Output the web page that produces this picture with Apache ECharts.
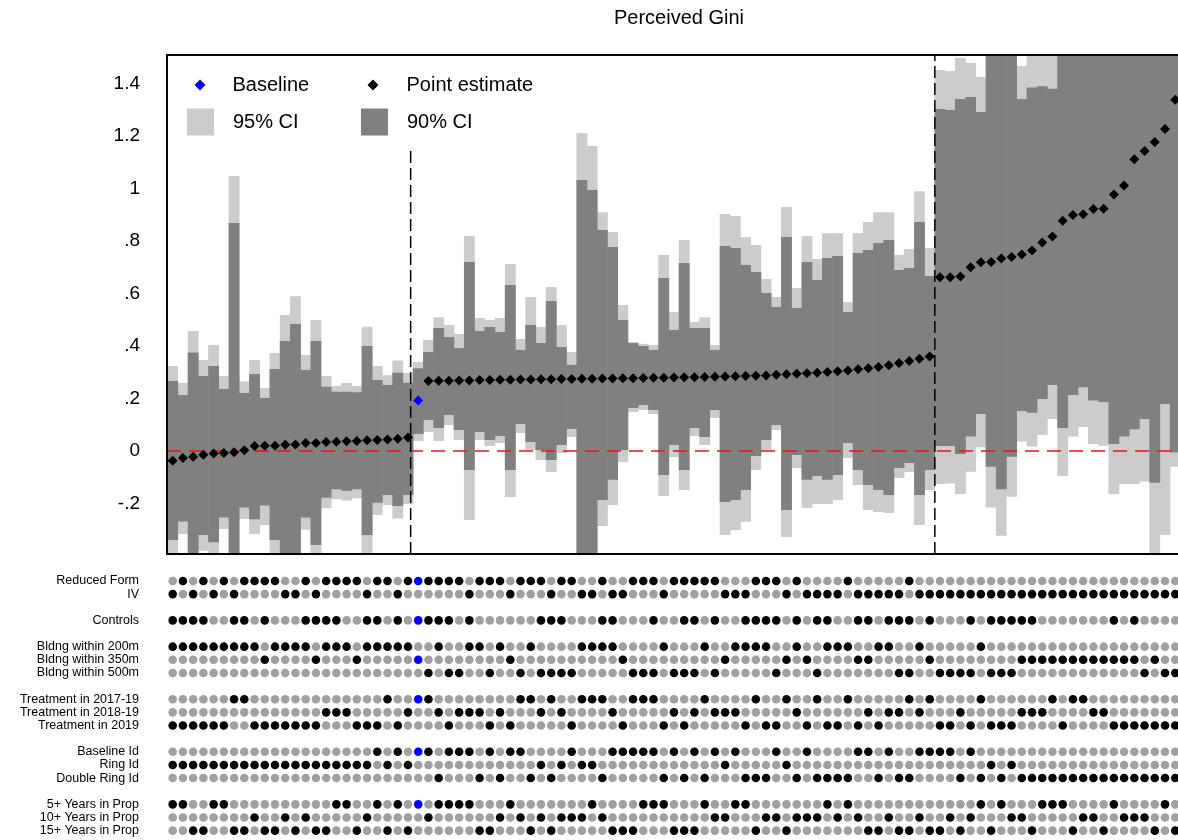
<!DOCTYPE html>
<html><head><meta charset="utf-8">
<script src="https://cdn.jsdelivr.net/npm/echarts@6/dist/echarts.min.js"></script>
<style>html,body{margin:0;padding:0;background:#fff}#c{width:1178px;height:840px}</style>
</head><body><div id="c"></div>
<script>
// ---------- DATA ----------
const est = [
 -0.037,-0.027,-0.022,-0.014,-0.010,-0.008,-0.005,0.003,0.019,0.020,0.020,0.024,0.025,0.030,0.030,0.034,0.035,0.037,0.038,0.041,0.042,0.044,0.047,0.051,
 0.192,
 0.267,0.268,0.268,0.269,0.269,0.270,0.270,0.271,0.271,0.272,0.272,0.273,0.273,0.274,0.274,0.275,0.275,0.276,0.276,0.277,0.277,0.278,0.279,0.279,0.280,
 0.281,0.281,0.282,0.283,0.284,0.285,0.286,0.287,0.288,0.290,0.292,0.294,0.296,0.298,0.301,0.304,0.307,0.311,0.315,0.320,0.327,0.335,0.343,0.351,0.360,
 0.662,0.662,0.665,0.700,0.719,0.720,0.733,0.739,0.749,0.764,0.794,0.817,0.877,0.899,0.902,0.922,0.923,0.977,1.011,1.111,1.143,1.177,1.227,1.338
];
const hi95 = [
 .324,.259,.457,.347,.404,.286,1.048,.265,.347,.240,.373,.518,.590,.366,.499,.286,.248,.259,.248,.473,.324,.289,.345,.297,
 .339,
 .423,.510,.480,.446,.819,.507,.499,.507,.712,.427,.587,.472,.625,.480,.377,1.211,1.162,.910,.834,.556,.415,.408,.404,.747,.530,
 .804,.491,.510,.404,.903,.895,.815,.785,.655,.587,.930,.621,.819,.731,.830,.830,.568,.830,.872,.910,.910,.747,.770,.990,.773,
 1.451,1.448,1.497,1.478,1.425,1.70,1.75,1.70,1.467,1.52,1.53,1.52,1.75,1.75,1.75,1.75,1.75,1.80,1.85,1.95,2.00,2.10,2.20,2.30
];
const hi90 = [
 .267,.213,.375,.286,.324,.236,.869,.221,.293,.202,.312,.419,.484,.309,.419,.245,.226,.226,.224,.400,.270,.251,.298,.260,
 .315,
 .377,.469,.434,.392,.720,.457,.472,.453,.632,.385,.480,.411,.571,.396,.328,1.032,.994,.842,.777,.499,.411,.400,.385,.659,.461,
 .716,.469,.469,.385,.781,.773,.709,.682,.602,.549,.815,.545,.720,.651,.735,.743,.530,.754,.766,.792,.804,.690,.697,.872,.667,
 1.303,1.299,1.341,1.349,1.291,1.56,1.60,1.56,1.341,1.385,1.390,1.380,1.60,1.60,1.60,1.60,1.60,1.65,1.70,1.80,1.85,1.90,2.00,2.10
];
const lo90 = [
 -.339,-.269,-.42,-.320,-.348,-.253,-.45,-.215,-.260,-.208,-.339,-.44,-.40,-.253,-.358,-.178,-.146,-.151,-.146,-.320,-.197,-.168,-.210,-.168,
 .065,
 .118,.088,.137,.080,-.072,.072,.042,.057,-.072,.103,.034,.004,-.034,.023,.084,-.45,-.42,-.187,-.110,.004,.164,.175,.156,-.091,.023,
 -.072,.088,.053,.156,-.194,-.187,-.149,-.019,.042,.099,-.225,-.015,-.110,-.095,-.110,-.091,.030,-.072,-.130,-.149,-.168,-.065,-.046,-.168,-.072,
 .019,.019,-.011,.055,.141,-.060,-.146,-.022,.152,.146,.198,.251,.088,.213,.243,.192,.187,.027,.055,.083,.122,-.121,.179,-.006
];
const lo95 = [
 -.45,-.316,-.50,-.380,-.42,-.297,-.55,-.259,-.316,-.282,-.42,-.52,-.50,-.300,-.43,-.218,-.184,-.189,-.180,-.41,-.244,-.206,-.257,-.202,
 .038,
 .072,.038,.099,.042,-.263,.042,.019,.030,-.175,.069,.004,-.034,-.080,-.008,.053,-.55,-.50,-.286,-.206,-.042,.149,.156,.141,-.171,-.023,
 -.149,.057,.023,.126,-.320,-.301,-.270,-.072,.004,.080,-.328,-.065,-.217,-.202,-.202,-.187,-.027,-.130,-.225,-.232,-.236,-.103,-.080,-.282,-.149,
 -.126,-.124,-.164,-.079,.014,-.215,-.323,-.174,.036,.017,.061,.122,-.095,.055,.091,.027,.020,-.164,-.126,-.126,-.116,-.45,-.320,-.060
];
// specification choices (index of the chosen option inside each group)
const method = [ // 0 = Reduced Form, 1 = IV
 1,0,1,0,1,0,1,0,0,0,0,1,1,0,1,0,0,0,0,1,0,0,1,0,
 0,
 0,0,0,0,1,0,0,0,1,0,0,0,1,0,0,1,1,0,1,1,0,0,0,1,0,
 0,0,0,0,1,1,1,0,0,0,1,0,1,1,1,1,0,1,1,1,1,1,0,1,1,
 1,1,1,1,1,1,1,1,1,1,1,1,1,1,1,1,1,1,1,1,1,1,1,1
];
const controls = [ // 1 = with controls
 1,1,1,1,0,0,1,1,0,1,0,0,0,1,1,1,1,0,0,1,1,0,1,0,
 1,
 1,1,1,0,1,0,0,0,0,0,0,1,1,1,0,0,0,1,1,0,0,0,1,0,0,
 1,1,0,1,0,0,1,1,1,1,0,1,0,1,1,0,0,1,1,0,1,1,1,0,1,
 0,0,0,1,0,1,1,1,1,1,0,0,0,0,0,0,0,1,0,1,0,0,0,0
];
const bldng = [ // 0 = 200m, 1 = 350m, 2 = 500m
 0,0,0,0,0,0,0,0,0,1,0,0,0,0,1,0,0,0,1,0,0,0,0,0,
 1,
 2,0,2,2,0,0,2,0,1,2,0,2,2,2,2,0,0,0,0,1,2,2,2,0,2,
 2,2,0,2,1,0,0,0,0,2,1,0,1,2,0,0,0,1,1,0,0,2,2,0,1,
 2,2,2,2,0,2,2,2,1,1,1,1,1,1,1,1,1,1,1,1,2,1,2,2
];
const treat = [ // 0 = 2017-19, 1 = 2018-19, 2 = 2019
 2,2,2,2,2,2,0,0,2,2,2,2,2,2,2,1,1,1,2,2,2,0,2,1,
 0,
 0,1,2,1,1,1,2,1,2,0,0,1,0,1,2,0,0,0,1,2,0,0,0,2,1,
 2,1,0,1,1,1,2,0,2,2,0,1,2,0,2,2,0,2,1,2,1,1,0,1,0,
 2,2,1,2,0,2,2,2,1,1,1,0,2,0,0,1,1,2,2,2,2,2,2,2
];
const idType = [ // 0 = Baseline Id, 1 = Ring Id, 2 = Double Ring Id
 1,1,1,1,1,1,1,1,1,1,1,1,1,1,1,1,1,1,1,1,0,1,0,1,
 0,
 0,2,0,0,0,2,0,2,0,0,2,1,2,1,0,1,1,2,0,0,0,0,0,2,0,
 2,0,2,0,1,0,2,2,2,0,1,2,0,2,2,2,2,0,0,2,0,2,2,0,0,
 0,0,2,0,2,1,2,1,2,2,2,2,2,2,2,2,2,2,2,2,2,2,2,2
];
const years = [ // 0 = 5+, 1 = 10+, 2 = 15+
 0,0,2,2,0,0,2,2,1,2,2,1,2,1,2,2,0,0,2,1,0,2,0,2,
 0,
 1,0,0,0,0,2,2,1,0,1,2,1,2,1,1,1,0,1,2,2,2,0,0,0,2,
 2,2,0,1,1,0,0,2,1,1,2,1,1,1,0,1,0,1,2,2,1,2,2,1,2,
 2,1,2,1,0,2,0,1,1,2,0,0,0,2,1,1,2,0,1,1,1,2,0,2
];
const rowLabels = ['Reduced Form','IV','','Controls','','Bldng within 200m','Bldng within 350m','Bldng within 500m','',
 'Treatment in 2017-19','Treatment in 2018-19','Treatment in 2019','','Baseline Id','Ring Id','Double Ring Id','',
 '5+ Years in Prop','10+ Years in Prop','15+ Years in Prop'];
const yTickValues = [-0.2,0,0.2,0.4,0.6,0.8,1,1.2,1.4];
const yTickLabels = ['-.2','0','.2','.4','.6','.8','1','1.2','1.4'];
const baselineIndex = 24;
const groupBreaks = [23.26, 74.5];
const breakTops = [1.145, 1.5086];

// ---------- BUILD ----------
const FONT = '"Liberation Sans", Arial, Helvetica, sans-serif';
const XMIN = -0.557, XMAX = 98.27, YMIN = -0.3924, YMAX = 1.5086;
const n = est.length;
const idx = Array.from({length:n}, (_, i) => i);

const ci95 = idx.map(i => [i, lo95[i], hi95[i]]);
const ci90 = idx.map(i => [i, lo90[i], hi90[i]]);
const pts = idx.filter(i => i !== baselineIndex).map(i => [i, est[i]]);
const basePt = [[baselineIndex, est[baselineIndex]]];

const groups = [
  {codes: method, rows: [0, 1]},
  {codes: controls.map(c => c === 1 ? 0 : -1), rows: [3]},
  {codes: bldng, rows: [5, 6, 7]},
  {codes: treat, rows: [9, 10, 11]},
  {codes: idType, rows: [13, 14, 15]},
  {codes: years, rows: [17, 18, 19]}
];
const dotData = [];
idx.forEach(i => {
  groups.forEach(g => g.rows.forEach((r, j) => {
    const on = g.codes[i] === j;
    dotData.push({value: [i, r], itemStyle: {opacity: 1, color: on ? (i === baselineIndex ? '#0000ff' : '#000000') : '#a0a0a0'}});
  }));
});

function ciRender(color) {
  return function (params, api) {
    const i = api.value(0), lo = api.value(1), hi = api.value(2);
    const a = api.coord([i - 0.5, hi]);
    const b = api.coord([i + 0.5, lo]);
    const cs = params.coordSys;
    const x1 = Math.max(a[0] - 0.3, cs.x), x2 = Math.min(b[0] + 0.3, cs.x + cs.width);
    const y1 = Math.max(a[1], cs.y), y2 = Math.min(b[1], cs.y + cs.height);
    if (x2 <= x1 || y2 <= y1) return null;
    return {type: 'rect', shape: {x: x1, y: y1, width: x2 - x1, height: y2 - y1}, style: {fill: color}};
  };
}

function refLine(name, data, color, width, dash) {
  return {name: name, type: 'line', xAxisIndex: 0, yAxisIndex: 0, z: 3, silent: true,
    symbol: 'none', showSymbol: false, data: data,
    lineStyle: {color: color, width: width, type: dash, opacity: 1}, itemStyle: {color: color}};
}

const frameLine = {show: true, onZero: false, lineStyle: {color: '#000', width: 2}};
const legendBase = {selectedMode: false, padding: 0, orient: 'horizontal'};
const chart = echarts.init(document.getElementById('c'), null, {renderer: 'canvas'});
chart.setOption({
  animation: false,
  backgroundColor: '#ffffff',
  title: {text: 'Perceived Gini', left: 614, top: 8, padding: 0,
    textStyle: {fontFamily: FONT, fontSize: 20, fontWeight: 'normal', color: '#000'}},
  legend: [
    Object.assign({}, legendBase, {left: 194.5, top: 75, itemWidth: 11, itemHeight: 11,
      data: [{name: 'Baseline', icon: 'diamond', itemStyle: {color: '#0000ff'}}],
      textStyle: {fontFamily: FONT, fontSize: 20, color: '#000', padding: [0, 0, 0, 22]}}),
    Object.assign({}, legendBase, {left: 367.5, top: 75, itemWidth: 11, itemHeight: 11,
      data: [{name: 'Point estimate', icon: 'diamond', itemStyle: {color: '#000'}}],
      textStyle: {fontFamily: FONT, fontSize: 20, color: '#000', padding: [0, 0, 0, 23]}}),
    Object.assign({}, legendBase, {left: 187, top: 108.5, itemWidth: 27, itemHeight: 27,
      data: [{name: '95% CI', icon: 'rect', itemStyle: {color: '#cccccc'}}],
      textStyle: {fontFamily: FONT, fontSize: 20, color: '#000', padding: [0, 0, 0, 14]}}),
    Object.assign({}, legendBase, {left: 361, top: 108.5, itemWidth: 27, itemHeight: 27,
      data: [{name: '90% CI', icon: 'rect', itemStyle: {color: '#808080'}}],
      textStyle: {fontFamily: FONT, fontSize: 20, color: '#000', padding: [0, 0, 0, 14]}})
  ],
  grid: [
    {left: 167, right: 0, top: 55, height: 499, show: false},
    {left: 167, right: 0, top: 574.4, height: 262.8, show: false}
  ],
  xAxis: [
    {type: 'value', gridIndex: 0, min: XMIN, max: XMAX, position: 'bottom', z: 10,
     axisLine: frameLine, axisTick: {show: false}, axisLabel: {show: false}, splitLine: {show: false}},
    {type: 'value', gridIndex: 1, min: XMIN, max: XMAX, show: false},
    {type: 'value', gridIndex: 0, min: XMIN, max: XMAX, position: 'top', z: 10,
     axisLine: frameLine, axisTick: {show: false}, axisLabel: {show: false}, splitLine: {show: false}}
  ],
  yAxis: [
    {type: 'value', gridIndex: 0, min: YMIN, max: YMAX, z: 10,
     axisLine: frameLine, axisTick: {show: false}, splitLine: {show: false},
     axisLabel: {customValues: yTickValues, margin: 27, color: '#000', fontFamily: FONT, fontSize: 19,
       formatter: v => { const k = yTickValues.findIndex(t => Math.abs(t - v) < 1e-6); return k >= 0 ? yTickLabels[k] : ''; }}},
    {type: 'category', gridIndex: 1, data: rowLabels, inverse: true, boundaryGap: true,
     axisLine: {show: false}, axisTick: {show: false}, splitLine: {show: false},
     axisLabel: {interval: 0, margin: 28, color: '#000', fontFamily: FONT, fontSize: 12.5}}
  ],
  series: [
    {name: '95% CI', type: 'custom', xAxisIndex: 0, yAxisIndex: 0, z: 2, silent: true,
     itemStyle: {color: '#cccccc'}, renderItem: ciRender('#cccccc'), data: ci95},
    {name: '90% CI', type: 'custom', xAxisIndex: 0, yAxisIndex: 0, z: 2, silent: true,
     itemStyle: {color: '#808080'}, renderItem: ciRender('#808080'), data: ci90},
    refLine('zero', [[XMIN, 0], [XMAX, 0]], '#ee1111', 1.5, [14, 8]),
    refLine('break1', [[groupBreaks[0], YMIN], [groupBreaks[0], breakTops[0]]], '#000000', 1.5, [12, 5]),
    refLine('break2', [[groupBreaks[1], YMIN], [groupBreaks[1], breakTops[1]]], '#000000', 1.5, [12, 5]),
    {name: 'Point estimate', type: 'scatter', xAxisIndex: 0, yAxisIndex: 0, z: 5, symbol: 'diamond', symbolSize: 10,
     itemStyle: {color: '#000', opacity: 1}, data: pts, silent: true},
    {name: 'Baseline', type: 'scatter', xAxisIndex: 0, yAxisIndex: 0, z: 5, symbol: 'diamond', symbolSize: 10,
     itemStyle: {color: '#0000ff', opacity: 1}, data: basePt, silent: true},
    {name: 'spec', type: 'scatter', xAxisIndex: 1, yAxisIndex: 1, z: 5, symbol: 'circle', symbolSize: 8.6,
     itemStyle: {opacity: 1}, data: dotData, silent: true}
  ]
});
</script>
</body></html>
